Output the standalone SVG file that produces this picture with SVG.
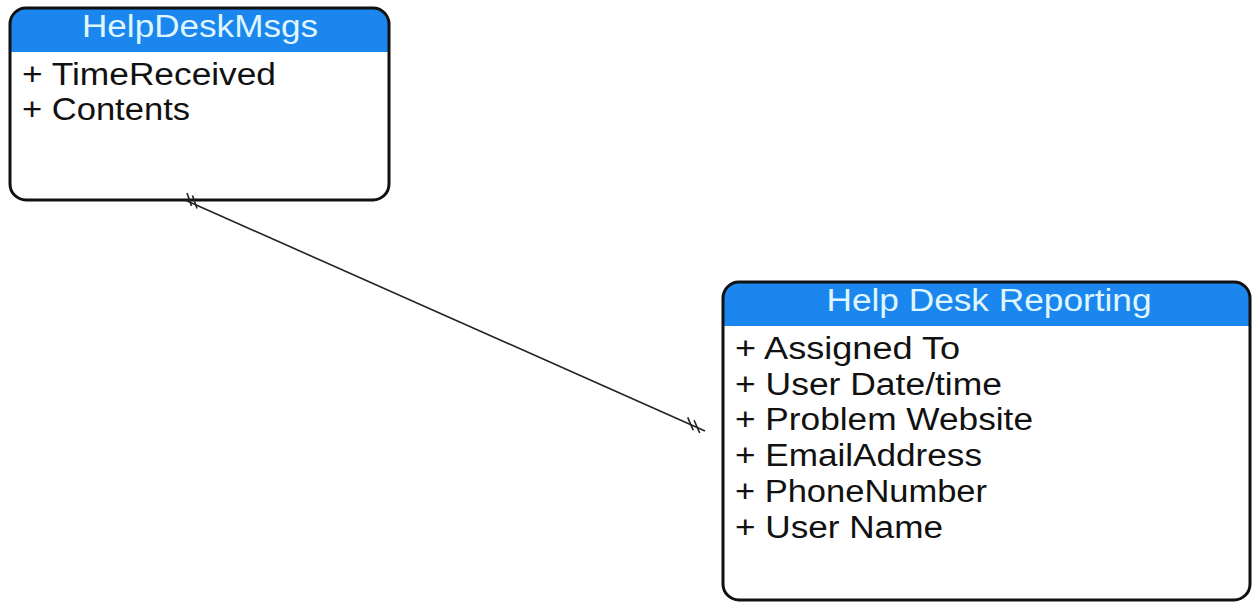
<svg xmlns="http://www.w3.org/2000/svg" width="1252" height="605" viewBox="0 0 1252 605">
<style>
.body{fill:#ffffff}
.hdr{fill:#1b87ee}
.border{fill:none;stroke:#111111;stroke-width:3}
.title{font-family:"Liberation Sans",Arial,sans-serif;font-size:31px;fill:#dff6ff;text-anchor:middle}
.attr{font-family:"Liberation Sans",Arial,sans-serif;font-size:31px;fill:#111111}
.conn{stroke:#222222;stroke-width:1.6;fill:none}
</style>
<rect width="1252" height="605" fill="#ffffff"/>
<g id="node-helpdeskmsgs">
<rect class="body" x="10" y="8" width="379" height="192" rx="16"/>
<path class="hdr" d="M10,52 V24 A16,16 0 0 1 26,8 H373 A16,16 0 0 1 389,24 V52 Z"/>
<rect class="border" x="10" y="8" width="379" height="192" rx="16"/>
<text class="title" x="200" y="37" textLength="236" lengthAdjust="spacingAndGlyphs">HelpDeskMsgs</text>
<text class="attr" x="22" y="85" textLength="254" lengthAdjust="spacingAndGlyphs">+ TimeReceived</text>
<text class="attr" x="22" y="120" textLength="168" lengthAdjust="spacingAndGlyphs">+ Contents</text>
</g>
<g id="node-helpdeskreporting">
<rect class="body" x="723" y="282" width="527" height="318" rx="16"/>
<path class="hdr" d="M723,326 V298 A16,16 0 0 1 739,282 H1234 A16,16 0 0 1 1250,298 V326 Z"/>
<rect class="border" x="723" y="282" width="527" height="318" rx="16"/>
<text class="title" x="989" y="311" textLength="325" lengthAdjust="spacingAndGlyphs">Help Desk Reporting</text>
<text class="attr" x="735" y="359" textLength="225" lengthAdjust="spacingAndGlyphs">+ Assigned To</text>
<text class="attr" x="735" y="395" textLength="267" lengthAdjust="spacingAndGlyphs">+ User Date/time</text>
<text class="attr" x="735" y="430" textLength="298" lengthAdjust="spacingAndGlyphs">+ Problem Website</text>
<text class="attr" x="735" y="466" textLength="247" lengthAdjust="spacingAndGlyphs">+ EmailAddress</text>
<text class="attr" x="735" y="502" textLength="252" lengthAdjust="spacingAndGlyphs">+ PhoneNumber</text>
<text class="attr" x="735" y="538" textLength="208" lengthAdjust="spacingAndGlyphs">+ User Name</text>
</g>
<g id="connectors">
<line class="conn" x1="185" y1="200" x2="705" y2="431"/>
<line class="conn" x1="187" y1="193" x2="191.5" y2="206"/>
<line class="conn" x1="192.5" y1="195.5" x2="197" y2="208.5"/>
<line class="conn" x1="694.1" y1="420.2" x2="699.7" y2="433.0"/>
<line class="conn" x1="687.7" y1="417.4" x2="693.3" y2="430.2"/>
</g>
</svg>
